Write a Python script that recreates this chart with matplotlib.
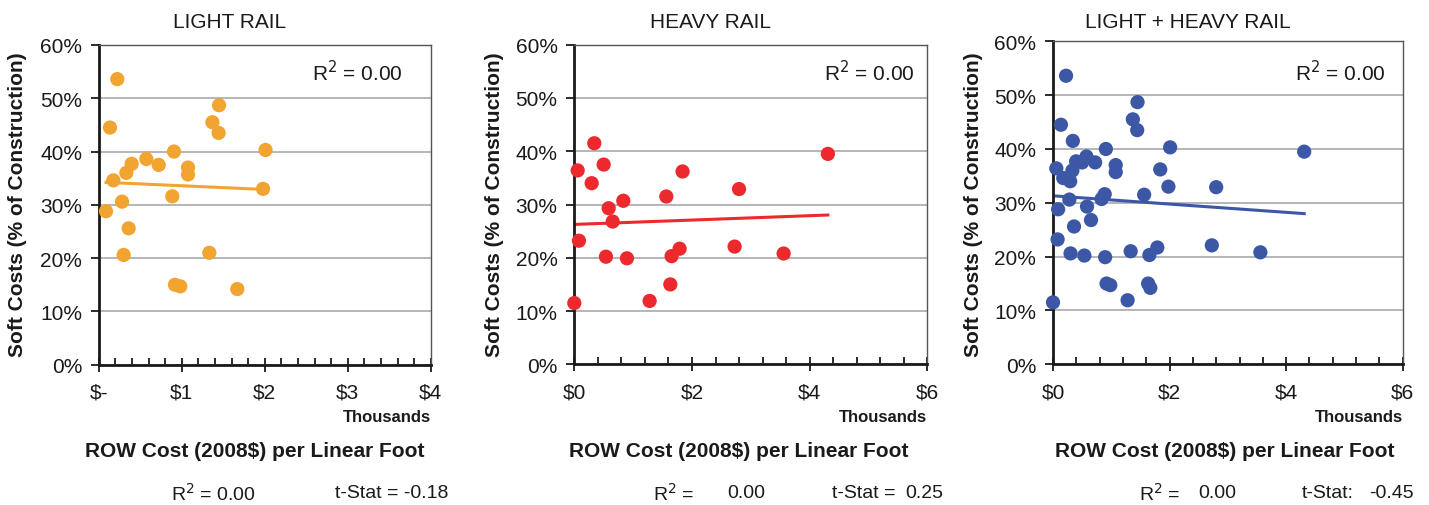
import numpy as np
import matplotlib
matplotlib.use('Agg')
import matplotlib.pyplot as plt
from matplotlib.ticker import MultipleLocator, FuncFormatter

plt.rcParams['font.family'] = ['Liberation Sans', 'DejaVu Sans']

# ROW cost per linear foot (thousands of 2008$) and soft costs (% of construction)
light_x = [0.224, 0.136, 1.45, 1.37, 1.445, 0.907, 2.01, 0.574, 0.723, 0.397,
           0.333, 1.076, 1.076, 0.176, 1.98, 0.887, 0.281, 0.088, 0.361, 0.301,
           1.333, 0.919, 0.983, 1.67]
light_y = [53.6, 44.5, 48.7, 45.5, 43.5, 40.0, 40.3, 38.6, 37.5, 37.7,
           36.0, 37.0, 35.7, 34.6, 33.0, 31.6, 30.6, 28.8, 25.6, 20.6,
           21.0, 15.0, 14.7, 14.2]

heavy_x = [0.340, 0.057, 0.499, 0.295, 1.84, 4.31, 2.80, 1.564, 0.833, 0.584,
           0.652, 0.079, 0.538, 0.895, 1.654, 1.79, 2.725, 3.558, 1.632, 1.28,
           0.0]
heavy_y = [41.5, 36.4, 37.5, 34.0, 36.2, 39.5, 32.9, 31.5, 30.7, 29.3,
           26.8, 23.2, 20.2, 19.9, 20.3, 21.7, 22.1, 20.8, 15.0, 11.9,
           11.5]

both_x = light_x + heavy_x
both_y = light_y + heavy_y

titles = ['LIGHT RAIL', 'HEAVY RAIL', 'LIGHT + HEAVY RAIL']
colors = ['#F2A431', '#EC2A2D', '#3B57A6']
x_max = [4, 6, 6]
x_major = [1, 2, 2]
x_minor = [0.2, 0.4, 0.4]
r2_text = ['0.00', '0.00', '0.00']
tstat_text = ['-0.18', '0.25', '-0.45']

W, H = 1429, 506
fig = plt.figure(figsize=(W / 100, H / 100), dpi=100)

# axes boxes in pixels: left, right, top, bottom
boxes = [(98.7, 430.7, 46, 365.7), (574.3, 927.3, 45.7, 365.3), (1053, 1402.7, 42.3, 365.3)]
title_x = [230, 710, 1188]
xlabel_x = [255, 739, 1225]
ylabel_x = [18, 494, 973]
r2_in_x = [402.7, 915, 1386]

def fx(px):
    return px / W

def fy(py):
    return 1 - py / H

datasets = [(light_x, light_y), (heavy_x, heavy_y), (both_x, both_y)]
ink = '#1a1a1a'

for i, (xs, ys) in enumerate(datasets):
    l, r, t, b = boxes[i]
    ax = fig.add_axes([fx(l), fy(b), fx(r) - fx(l), (b - t) / H])
    xs = np.array(xs)
    ys = np.array(ys) / 100

    ax.scatter(xs, ys, s=105, color=colors[i], edgecolors='none', zorder=3, clip_on=False)
    m, c = np.polyfit(xs, ys, 1)
    xx = np.array([xs.min(), xs.max()])
    ax.plot(xx, m * xx + c, color=colors[i], lw=2.2, zorder=2)

    ax.set_xlim(0, x_max[i])
    ax.set_ylim(0, 0.6)
    ax.yaxis.set_major_locator(MultipleLocator(0.1))
    ax.yaxis.set_major_formatter(FuncFormatter(lambda v, p: '%d%%' % round(v * 100)))
    ax.xaxis.set_major_locator(MultipleLocator(x_major[i]))
    ax.xaxis.set_minor_locator(MultipleLocator(x_minor[i]))
    if i == 0:
        ax.xaxis.set_major_formatter(FuncFormatter(lambda v, p: '$-' if v == 0 else '$%d' % v))
    else:
        ax.xaxis.set_major_formatter(FuncFormatter(lambda v, p: '$%d' % v))

    ax.grid(axis='y', color='#A7A9AC', lw=1.2, zorder=0)
    ax.set_axisbelow(True)
    for s in ['top', 'right']:
        ax.spines[s].set_color('#555555')
        ax.spines[s].set_linewidth(1.0)
    for s in ['left', 'bottom']:
        ax.spines[s].set_color(ink)
        ax.spines[s].set_linewidth(2.0)

    ax.tick_params(axis='y', direction='out', length=6, width=1.3, labelsize=15,
                   colors=ink, pad=6)
    ax.tick_params(axis='x', which='major', direction='inout', length=10, width=1.3,
                   labelsize=15, colors=ink, pad=8)
    ax.tick_params(axis='x', which='minor', direction='in', length=5, width=1.3,
                   colors=ink)

    ax.text(fx(r2_in_x[i]), fy(73), 'R$^2$ = 0.00', transform=fig.transFigure,
            ha='right', va='center', fontsize=15, color=ink)

    fig.text(fx(title_x[i]), fy(23), titles[i], ha='center', va='center',
             fontsize=15, color=ink)
    fig.text(fx(r), fy(418), 'Thousands', ha='right', va='center',
             fontsize=12, fontweight='bold', color=ink)
    fig.text(fx(xlabel_x[i]), fy(452), 'ROW Cost (2008$) per Linear Foot',
             ha='center', va='center', fontsize=15, fontweight='bold', color=ink)
    fig.text(fx(ylabel_x[i]), fy(205), 'Soft Costs (% of Construction)', rotation=90,
             ha='center', va='center', fontsize=15, fontweight='bold', color=ink)

# bottom statistics lines
stat_y = fy(494)
kw = dict(va='center', fontsize=14, color=ink)
fig.text(fx(170.7), stat_y, 'R$^2$ = ' + r2_text[0], ha='left', **kw)
fig.text(fx(335), stat_y, 't-Stat = ' + tstat_text[0], ha='left', **kw)
fig.text(fx(653), stat_y, 'R$^2$ =', ha='left', **kw)
fig.text(fx(727), stat_y, r2_text[1], ha='left', **kw)
fig.text(fx(832), stat_y, 't-Stat =', ha='left', **kw)
fig.text(fx(943), stat_y, tstat_text[1], ha='right', **kw)
fig.text(fx(1139), stat_y, 'R$^2$ =', ha='left', **kw)
fig.text(fx(1198), stat_y, r2_text[2], ha='left', **kw)
fig.text(fx(1302), stat_y, 't-Stat:', ha='left', **kw)
fig.text(fx(1414), stat_y, tstat_text[2], ha='right', **kw)

fig.savefig('out.png', dpi=100)
